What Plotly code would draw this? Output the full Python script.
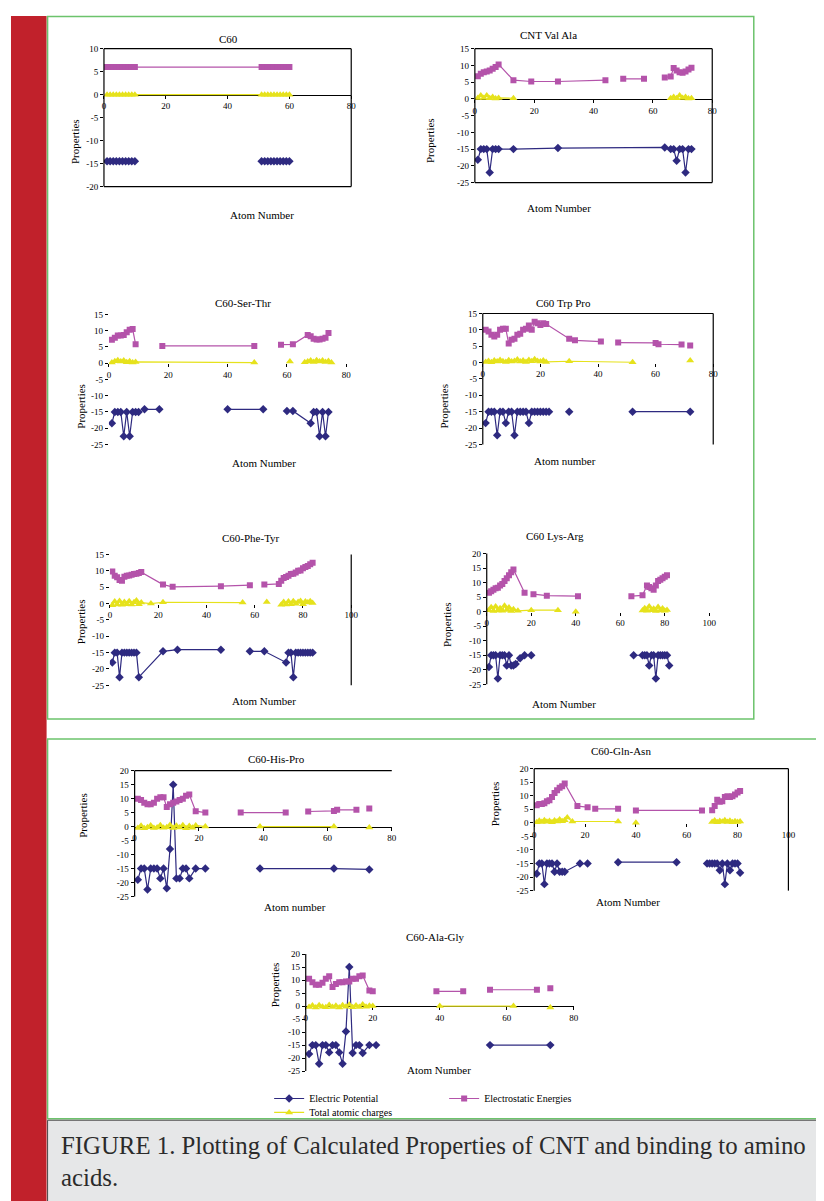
import plotly.graph_objects as go

W, H = 824, 1201
PAGE_OFFSET = 8  # browser default body margin
SERIF = "Liberation Serif"
POT_COLOR = "#2e2a80"
EN_COLOR = "#b453aa"
CH_COLOR = "#e6e21c"

# ---------------- data ----------------
X_TICKS_80 = [0, 20, 40, 60, 80]
X_TICKS_100 = [0, 20, 40, 60, 80, 100]
Y_TICKS_10 = [10, 5, 0, -5, -10, -15, -20]
Y_TICKS_15 = [15, 10, 5, 0, -5, -10, -15, -20, -25]
Y_TICKS_20 = [20, 15, 10, 5, 0, -5, -10, -15, -20, -25]

# C60
c60_atoms = [1, 2, 3, 4, 5, 6, 7, 8, 9, 10, 51, 52, 53, 54, 55, 56, 57, 58, 59, 60]
c60_energy = [6.0, 6.0, 6.0, 6.0, 6.0, 6.0, 6.0, 6.0, 6.0, 6.0, 6.0, 6.0, 6.0, 6.0, 6.0, 6.0, 6.0, 6.0, 6.0, 6.0]
c60_charge = [0.0, 0.0, 0.0, 0.0, 0.0, 0.0, 0.0, 0.0, 0.0, 0.0, 0.0, 0.0, 0.0, 0.0, 0.0, 0.0, 0.0, 0.0, 0.0, 0.0]
c60_pot_atoms = [1, 2, 3, 4, 5, 6, 7, 8, 9, 10, 30, 51, 52, 53, 54, 55, 56, 57, 58, 59, 60]
c60_potential = [-14.5, -14.5, -14.5, -14.5, -14.5, -14.5, -14.5, -14.5, -14.5, -14.5, None,
                 -14.5, -14.5, -14.5, -14.5, -14.5, -14.5, -14.5, -14.5, -14.5, -14.5]

# CNT Val Ala
valala_en_atoms = [1, 2, 3, 4, 5, 6, 7, 8, 13, 19, 28, 44, 47, 50, 57, 60, 64, 66, 67, 68, 69, 70, 71, 72, 73]
valala_energy = [6.8, 7.5, 8.0, 8.2, 8.5, 9.0, 9.5, 10.3, 5.6, 5.2, 5.2, 5.6, None, 6.0, 6.0, None,
                 6.4, 6.7, 9.2, 8.5, 8.0, 7.8, 8.2, 8.8, 9.3]
valala_ch_atoms = [1, 2, 3, 4, 5, 6, 7, 8, 13, 40, 66, 67, 68, 69, 70, 71, 72, 73]
valala_charge = [0.3, 1.0, 0.3, 1.0, 0.2, 0.6, 0.1, 0.3, 0.2, None, 0.2, 0.6, 0.2, 1.0, 0.3, 0.6, 0.1, 0.2]
valala_pot_atoms = [1, 2, 3, 4, 5, 6, 7, 8, 13, 28, 64, 66, 67, 68, 69, 70, 71, 72, 73]
valala_potential = [-18.2, -15, -15, -15, -22, -15, -15, -15, -15, -14.7, -14.5, -15, -15, -18.5,
                    -15, -15, -22, -15, -15]

# C60-Ser-Thr
serthr_en_atoms = [1, 2, 3, 4, 5, 6, 7, 8, 9, 13, 18, 49, 53, 58, 62, 67, 68, 69, 70, 71, 72, 73, 74]
serthr_energy = [7.2, 7.8, 8.5, 8.5, 8.7, 9.5, 10.3, 10.5, 5.8, None, 5.3, 5.3, None, 5.7, 5.8,
                 8.7, 8.3, 7.5, 7.3, 7.3, 7.5, 7.8, 9.3]
serthr_ch_atoms = [1, 2, 3, 4, 5, 6, 7, 8, 9, 49, 55, 61, 64, 66, 67, 68, 69, 70, 71, 72, 73, 74, 75]
serthr_charge = [0.2, 0.6, 0.9, 0.5, 0.8, 0.3, 0.6, 0.2, 0.4, 0.2, None, 0.5, None,
                 0.3, 0.5, 0.8, 0.4, 0.9, 0.5, 0.8, 0.4, 0.7, 0.2]
serthr_pot_atoms = [1, 2, 3, 4, 5, 6, 7, 8, 9, 10, 11, 12, 17, 30, 40, 52, 56, 60, 62,
                    68, 69, 70, 71, 72, 73, 74]
serthr_potential = [-18.5, -15, -15, -15, -22.5, -15, -22.5, -15, -15, -15, None, -14.2, -14.2,
                    None, -14.2, -14.2, None, -14.7, -14.7, -18.5, -15, -15, -22.5, -15, -22.5, -15]

# C60 Trp Pro
trppro_en_atoms = [1, 2, 3, 4, 5, 6, 7, 8, 9, 10, 11, 12, 13, 14, 15, 16, 17, 18, 19, 20, 21, 22,
                   30, 32, 41, 44, 47, 60, 61, 69, 70, 72]
trppro_energy = [10.0, 9.5, 8.5, 8.0, 8.5, 10.0, 10.3, 10.3, 5.8, 7.0, 7.3, 8.5, 8.8, 10.0, 10.3,
                 11.3, 10.0, 12.5, 12.0, 11.5, 12.0, 11.8,
                 7.3, 6.8, 6.4, None, 6.1, 6.0, 5.6, 5.5, None, 5.2]
trppro_ch_atoms = [1, 2, 3, 4, 5, 6, 7, 8, 9, 10, 11, 12, 13, 14, 15, 16, 17, 18, 19, 20, 21, 22,
                   30, 52, 60, 72]
trppro_charge = [0.2, 0.5, 0.1, 0.6, 0.3, 0.8, 0.4, 0.2, 0.7, 0.3, 0.5, 0.9, 0.3, 0.6, 0.2, 0.8,
                 0.4, 1.0, 0.5, 0.3, 0.6, 0.2, 0.4, 0.1, None, 0.6]
trppro_pot_atoms = [1, 2, 3, 4, 5, 6, 7, 8, 9, 10, 11, 12, 13, 14, 15, 16, 17, 18, 19, 20, 21, 22, 23,
                    26, 30, 40, 52, 72]
trppro_potential = [-18.5, -15, -15, -15, -22.2, -15, -15, -18.5, -15, -15, -22.2, -15, -15, -15,
                    -15, -18.5, -15, -15, -15, -15, -15, -15, -15, None, -15, None, -15, -15]

# C60-Phe-Tyr
phetyr_en_atoms = [1, 2, 3, 4, 5, 6, 7, 8, 9, 10, 11, 12, 13, 22, 26, 46, 58, 61, 64, 70,
                   71, 72, 73, 74, 75, 76, 77, 78, 79, 80, 81, 82, 83, 84]
phetyr_energy = [9.8, 8.5, 8.0, 7.2, 7.0, 8.2, 8.5, 8.6, 8.8, 9.0, 9.1, 9.3, 9.6,
                 5.8, 5.1, 5.3, 5.6, None, 5.8, 6.0,
                 7.0, 7.8, 8.1, 8.5, 9.0, 9.1, 9.5, 10.0, 10.1, 10.8, 11.2, 11.5, 12.0, 12.5]
phetyr_ch_atoms = [1, 2, 3, 4, 5, 6, 7, 8, 9, 10, 11, 12, 13, 17, 22, 55, 60, 65, 68,
                   71, 72, 73, 74, 75, 76, 77, 78, 79, 80, 81, 82, 83, 84]
phetyr_charge = [-0.5, 0.6, -0.3, 0.8, -0.4, 0.5, -0.2, 0.7, -0.3, 0.4, 0.9, -0.2, 0.3,
                 0.0, 0.4, 0.3, None, 0.5, None,
                 -0.4, 0.5, -0.3, 0.6, -0.2, 0.7, -0.1, 0.5, 0.8, -0.2, 0.6, 0.3, 0.7, 0.2]
phetyr_pot_atoms = [1, 2, 3, 4, 5, 6, 7, 8, 9, 10, 11, 12, 22, 28, 46, 52, 58, 64, 73,
                    74, 75, 76, 77, 78, 79, 80, 81, 82, 83, 84]
phetyr_potential = [-18.0, -15, -15, -22.5, -15, -15, -15, -15, -15, -15, -15, -22.5,
                    -14.6, -14.1, -14.1, None, -14.6, -14.6, -18.0,
                    -15, -15, -22.5, -15, -15, -15, -15, -15, -15, -15, -15]

# C60 Lys-Arg
lysarg_en_atoms = [1, 2, 3, 4, 5, 6, 7, 8, 9, 10, 11, 12, 17, 19, 21, 27, 41, 55, 65, 70,
                   72, 73, 74, 75, 76, 77, 78, 79, 80, 81]
lysarg_energy = [6.5, 7.0, 7.5, 8.0, 8.2, 9.0, 9.5, 10.5, 11.5, 12.5, 13.5, 14.5,
                 6.5, None, 6.0, 5.5, 5.3, None, 5.3, 5.6,
                 9.0, 8.5, 8.0, 7.5, 9.0, 10.5, 11.0, 11.5, 12.0, 12.5]
lysarg_ch_atoms = [1, 2, 3, 4, 5, 6, 7, 8, 9, 10, 11, 12, 14, 20, 32, 36, 40, 60,
                   70, 71, 72, 73, 74, 75, 76, 77, 78, 79, 80, 81]
lysarg_charge = [0.5, 1.5, 0.2, 1.8, 0.4, 1.2, 0.3, 2.0, 0.6, 1.4, 0.2, 0.8,
                 0.3, 0.5, 0.5, None, 0.0, None,
                 0.4, 1.2, 0.3, 1.8, 0.5, 1.0, 0.2, 1.6, 0.4, 1.1, 0.3, 0.6]
lysarg_pot_atoms = [1, 2, 3, 4, 5, 6, 7, 8, 9, 10, 11, 12, 13, 15, 17, 20, 40, 66,
                    70, 71, 72, 73, 74, 75, 76, 77, 78, 79, 80, 81, 82]
lysarg_potential = [-19.0, -15, -15, -15, -23.0, -15, -15, -15, -18.5, -15, -18.5, -18.5, -18.0,
                    -16.0, -15, -15, None, -15,
                    -15, -15, -15, -18.5, -15, -15, -23.0, -15, -15, -15, -15, -15, -18.5]

# C60-His-Pro
hispro_en_atoms = [1, 2, 3, 4, 5, 6, 7, 8, 9, 10, 11, 12, 13, 14, 15, 16, 17,
                   19, 22, 27, 33, 47, 50, 54, 62, 63, 69, 71, 73]
hispro_energy = [10.0, 9.5, 8.5, 8.0, 8.0, 8.5, 10.0, 10.5, 10.5, 7.0, 8.0, 8.5, 9.0, 9.5, 10.0,
                 11.0, 11.5, 5.5, 5.0, None, 5.0, 5.0, None, 5.4, 5.6, 6.0, 6.0, None, 6.5]
hispro_ch_atoms = [1, 2, 3, 4, 5, 6, 7, 8, 9, 10, 11, 12, 13, 14, 15, 16, 17, 18, 19,
                   22, 30, 39, 62, 68, 73]
hispro_charge = [-0.5, 0.3, -0.6, -0.2, 0.4, -0.5, -0.3, 0.5, -0.4, -0.2, 0.6, -0.5, 0.3, -0.3,
                 0.5, -0.6, 0.2, -0.4, 0.4, 0.0, None, 0.0, 0.0, None, -0.3]
hispro_pot_atoms = [1, 2, 3, 4, 5, 6, 7, 8, 9, 10, 11, 12, 13, 14, 15, 16, 17,
                    19, 22, 30, 39, 62, 73]
hispro_potential = [-19.0, -15, -15, -22.5, -15, -15, -15, -18.5, -15, -22.0, -8.0, 15.0, -18.5,
                    -18.5, -15, -15, -18.5, -15, -15, None, -15, -15, -15.3]

# C60-Gln-Asn
glnasn_en_atoms = [1, 2, 3, 4, 5, 6, 7, 8, 9, 10, 11, 12, 17, 21, 22, 24, 33, 37, 40, 66, 68,
                   70, 71, 72, 73, 74, 75, 76, 77, 78, 79, 80, 81]
glnasn_energy = [6.5, 7.0, 7.0, 7.2, 8.0, 8.3, 9.5, 11.0, 12.0, 13.0, 13.5, 14.5,
                 6.2, 5.8, None, 5.2, 5.2, None, 4.6, 4.6, None,
                 4.7, 6.2, 8.5, 7.8, 8.0, 9.5, 9.8, 9.5, 9.8, 10.5, 11.2, 11.8]
glnasn_ch_atoms = [1, 2, 3, 4, 5, 6, 7, 8, 9, 10, 11, 12, 13, 15, 33, 36, 40, 45,
                   70, 71, 72, 73, 74, 75, 76, 77, 78, 79, 80, 81]
glnasn_charge = [0.2, 0.8, 0.3, 1.0, 0.4, 0.7, 0.2, 0.9, 0.5, 1.2, 0.6, 1.0, 2.0,
                 0.5, 0.5, None, 0.0, None,
                 0.3, 0.9, 0.2, 0.7, 0.4, 1.0, 0.3, 0.8, 0.2, 0.6, 0.3, 0.5]
glnasn_pot_atoms = [1, 2, 3, 4, 5, 6, 7, 8, 9, 10, 11, 12, 18, 21, 27, 33, 56, 62,
                    68, 69, 70, 71, 72, 73, 74, 75, 76, 77, 78, 79, 80, 81]
glnasn_potential = [-18.8, -15, -15, -22.6, -15, -15, -15, -18.0, -15, -18.0, -18.0, -18.0,
                    -15, -15, None, -14.5, -14.5, None,
                    -15, -15, -15, -15, -15, -17.5, -15, -22.6, -15, -17.5, -15, -15, -15, -18.4]

# C60-Ala-Gly
alagly_en_atoms = [1, 2, 3, 4, 5, 6, 7, 8, 9, 10, 11, 12, 13, 14, 15, 16, 17,
                   19, 20, 30, 39, 47, 50, 55, 69, 71, 73]
alagly_energy = [10.5, 9.2, 8.2, 8.2, 9.0, 10.5, 11.5, 7.3, 8.5, 9.2, 9.2, 9.5, 9.5, 10.5, 10.5,
                 11.5, 11.8, 6.0, 5.7, None, 5.7, 5.7, None, 6.3, 6.3, None, 6.9]
alagly_ch_atoms = [1, 2, 3, 4, 5, 6, 7, 8, 9, 10, 11, 12, 13, 14, 15, 16, 17, 18, 19, 20,
                   30, 40, 62, 68, 73]
alagly_charge = [-0.3, 0.2, -0.5, 0.3, -0.2, -0.4, 0.4, -0.3, 0.1, -0.5, 0.3, -0.2, 0.5, -0.4,
                 0.2, -0.3, 0.6, -0.2, 0.1, 0.0, None, 0.0, 0.0, None, -0.5]
alagly_pot_atoms = [1, 2, 3, 4, 5, 6, 7, 8, 9, 10, 11, 12, 13, 14, 15, 16, 17,
                    19, 21, 40, 55, 73]
alagly_potential = [-18.4, -15, -15, -22.2, -15, -15, -17.8, -15, -15, -17.8, -22.2, -9.8, 15.0,
                    -18.0, -15, -15, -18.0, -15, -15, None, -15, -15]

SERIES_NAMES = ["Electric Potential", "Electrostatic Energies", "Total atomic charges"]
CAPTION = "FIGURE 1. Plotting of Calculated Properties of CNT and binding to amino<br>acids."

# ---------------- layout of panels (pixel boxes) ----------------
panels = [
    dict(title="C60", xtitle="Atom Number", box=(103, 353, 44, 183), xr=(0, 80), yr=(-20, 10),
         xt=X_TICKS_80, yt=Y_TICKS_10, sides="lrtb", xline=True,
         t_xy=(217, 26), yl_xy=(65, 113), xl_xy=(228, 204),
         pot=(c60_pot_atoms, c60_potential), en=(c60_atoms, c60_energy), ch=(c60_atoms, c60_charge)),
    dict(title="CNT Val Ala", xtitle="Atom Number", box=(478, 718, 44, 179), xr=(0, 80), yr=(-25, 15),
         xt=X_TICKS_80, yt=Y_TICKS_15, sides="lrtb", xline=True,
         t_xy=(583, 22), yl_xy=(432, 112), xl_xy=(597, 197),
         pot=(valala_pot_atoms, valala_potential), en=(valala_en_atoms, valala_energy),
         ch=(valala_ch_atoms, valala_charge)),
    dict(title="C60-Ser-Thr", xtitle="Atom Number", box=(108, 348, 312, 443), xr=(0, 80), yr=(-25, 15),
         xt=X_TICKS_80, yt=Y_TICKS_15, sides="", xline=False,
         t_xy=(213, 292), yl_xy=(72, 380), xl_xy=(230, 462),
         pot=(serthr_pot_atoms, serthr_potential), en=(serthr_en_atoms, serthr_energy),
         ch=(serthr_ch_atoms, serthr_charge)),
    dict(title="C60 Trp Pro", xtitle="Atom number", box=(486, 719, 311, 443), xr=(0, 80), yr=(-25, 15),
         xt=X_TICKS_80, yt=Y_TICKS_15, sides="lrt", xline=False,
         t_xy=(597, 292), yl_xy=(447, 380), xl_xy=(602, 460),
         pot=(trppro_pot_atoms, trppro_potential), en=(trppro_en_atoms, trppro_energy),
         ch=(trppro_ch_atoms, trppro_charge)),
    dict(title="C60-Phe-Tyr", xtitle="Atom Number", box=(109, 353, 554, 686), xr=(0, 100), yr=(-25, 15),
         xt=X_TICKS_100, yt=Y_TICKS_15, sides="r", xline=False,
         t_xy=(220, 537), yl_xy=(72, 622), xl_xy=(230, 702),
         pot=(phetyr_pot_atoms, phetyr_potential), en=(phetyr_en_atoms, phetyr_energy),
         ch=(phetyr_ch_atoms, phetyr_charge)),
    dict(title="C60 Lys-Arg", xtitle="Atom Number", box=(490, 715, 553, 685), xr=(0, 100), yr=(-25, 20),
         xt=X_TICKS_100, yt=Y_TICKS_20, sides="l", xline=False,
         t_xy=(590, 535), yl_xy=(450, 625), xl_xy=(602, 705),
         pot=(lysarg_pot_atoms, lysarg_potential), en=(lysarg_en_atoms, lysarg_energy),
         ch=(lysarg_ch_atoms, lysarg_charge)),
    dict(title="C60-His-Pro", xtitle="Atom number", box=(134, 394, 772, 899), xr=(0, 80), yr=(-25, 20),
         xt=X_TICKS_80, yt=Y_TICKS_20, sides="lt", xline=True,
         t_xy=(247, 760), yl_xy=(73, 842), xl_xy=(263, 918),
         pot=(hispro_pot_atoms, hispro_potential), en=(hispro_en_atoms, hispro_energy),
         ch=(hispro_ch_atoms, hispro_charge)),
    dict(title="C60-Gln-Asn", xtitle="Atom Number", box=(538, 795, 770, 893), xr=(0, 100), yr=(-25, 20),
         xt=X_TICKS_100, yt=Y_TICKS_20, sides="lrt", xline=False,
         t_xy=(658, 752), yl_xy=(498, 830), xl_xy=(667, 913),
         pot=(glnasn_pot_atoms, glnasn_potential), en=(glnasn_en_atoms, glnasn_energy),
         ch=(glnasn_ch_atoms, glnasn_charge)),
    dict(title="C60-Ala-Gly", xtitle="Atom Number", box=(307, 578, 957, 1075), xr=(0, 80), yr=(-25, 20),
         xt=X_TICKS_80, yt=Y_TICKS_20, sides="l", xline=True,
         t_xy=(438, 948), yl_xy=(268, 1013), xl_xy=(442, 1082),
         pot=(alagly_pot_atoms, alagly_potential), en=(alagly_en_atoms, alagly_energy),
         ch=(alagly_ch_atoms, alagly_charge)),
]


def px(x):
    return (x - PAGE_OFFSET) / W


def py(y):
    return 1 - (y - PAGE_OFFSET) / H


fig = go.Figure()
layout = {}
shapes = []
annotations = []

# page decorations
shapes.append(dict(type="rect", xref="paper", yref="paper", x0=px(9), x1=px(45), y0=py(1215), y1=py(11),
                   fillcolor="#c1212b", line=dict(width=0), layer="below"))
shapes.append(dict(type="rect", xref="paper", yref="paper", x0=px(46), x1=px(760), y0=py(720), y1=py(11.5),
                   fillcolor="rgba(0,0,0,0)", line=dict(color="#6cc36c", width=1.5), layer="below"))
shapes.append(dict(type="rect", xref="paper", yref="paper", x0=px(46), x1=px(840), y0=py(1123), y1=py(740),
                   fillcolor="rgba(0,0,0,0)", line=dict(color="#6cc36c", width=1.5), layer="below"))
shapes.append(dict(type="rect", xref="paper", yref="paper", x0=px(46), x1=px(840), y0=py(1215), y1=py(1124.5),
                   fillcolor="#e6e7e8", line=dict(color="#444444", width=1), layer="below"))
annotations.append(dict(text=CAPTION, xref="paper", yref="paper", x=px(58), y=py(1134),
                        xanchor="left", yanchor="top", align="left", showarrow=False,
                        font=dict(family=SERIF, size=24.8, color="#2b2b2b")))

tick_font = dict(family=SERIF, size=9, color="black")
lab_font = dict(family=SERIF, size=11, color="black")

for i, p in enumerate(panels, start=1):
    xa = "x" if i == 1 else f"x{i}"
    ya = "y" if i == 1 else f"y{i}"
    L, R, T, B = p["box"]
    xdom = [px(L), px(R)]
    ydom = [py(B), py(T)]
    y0, y1 = p["yr"]
    zero_pos = ydom[0] + (0 - y0) / (y1 - y0) * (ydom[1] - ydom[0])
    layout["xaxis" if i == 1 else f"xaxis{i}"] = dict(
        domain=xdom, range=list(p["xr"]), anchor="free", position=zero_pos,
        tickvals=p["xt"], ticktext=[str(v) for v in p["xt"]],
        showline=p["xline"], linecolor="black", linewidth=1,
        ticks="outside", ticklen=3, tickcolor="black", tickwidth=1,
        showgrid=False, zeroline=False, layer="below traces", tickfont=tick_font)
    layout["yaxis" if i == 1 else f"yaxis{i}"] = dict(
        domain=ydom, range=[y0, y1], anchor=xa,
        tickvals=p["yt"], ticktext=[str(v) for v in p["yt"]],
        showline=False, ticks="outside", ticklen=3, tickcolor="black", tickwidth=1,
        showgrid=False, zeroline=False, tickfont=tick_font)
    for side in p["sides"]:
        seg = {"l": (0, 0, 0, 1), "r": (1, 1, 0, 1), "t": (0, 1, 1, 1), "b": (0, 1, 0, 0)}[side]
        shapes.append(dict(type="line", xref=f"{xa} domain", yref=f"{ya} domain",
                           x0=seg[0], x1=seg[1], y0=seg[2], y1=seg[3],
                           line=dict(color="black", width=1.2)))
    annotations.append(dict(text=p["title"], xref="paper", yref="paper", x=px(p["t_xy"][0]),
                            y=py(p["t_xy"][1]), showarrow=False, font=lab_font))
    annotations.append(dict(text="Properties", xref="paper", yref="paper", x=px(p["yl_xy"][0]),
                            y=py(p["yl_xy"][1]), showarrow=False, textangle=-90, font=lab_font))
    annotations.append(dict(text=p["xtitle"], xref="paper", yref="paper", x=px(p["xl_xy"][0]),
                            y=py(p["xl_xy"][1]), showarrow=False, font=lab_font))

    last = (i == len(panels))
    fig.add_trace(go.Scatter(
        x=p["pot"][0], y=p["pot"][1], xaxis=xa, yaxis=ya, mode="lines+markers",
        name=SERIES_NAMES[0], showlegend=last, legend="legend", connectgaps=False,
        line=dict(color=POT_COLOR, width=1.2),
        marker=dict(symbol="diamond", size=6.5, color=POT_COLOR)))
    fig.add_trace(go.Scatter(
        x=p["en"][0], y=p["en"][1], xaxis=xa, yaxis=ya, mode="lines+markers",
        name=SERIES_NAMES[1], showlegend=last, legend="legend", connectgaps=False,
        line=dict(color=EN_COLOR, width=1.2),
        marker=dict(symbol="square", size=6, color=EN_COLOR)))
    fig.add_trace(go.Scatter(
        x=p["ch"][0], y=p["ch"][1], xaxis=xa, yaxis=ya, mode="lines+markers",
        name=SERIES_NAMES[2], showlegend=last, legend="legend2", connectgaps=False,
        line=dict(color=CH_COLOR, width=1.2),
        marker=dict(symbol="triangle-up", size=7, color=CH_COLOR)))

leg_font = dict(family=SERIF, size=10, color="black")
fig.update_layout(
    width=W, height=H, autosize=False,
    margin=dict(l=0, r=0, t=0, b=0, pad=0),
    paper_bgcolor="white", plot_bgcolor="rgba(0,0,0,0)",
    shapes=shapes, annotations=annotations,
    legend=dict(orientation="h", x=px(270), y=py(1088), xanchor="left", yanchor="top",
                entrywidth=130, entrywidthmode="pixels", font=leg_font,
                bgcolor="rgba(0,0,0,0)", itemwidth=30, tracegroupgap=0),
    legend2=dict(orientation="h", x=px(270), y=py(1102), xanchor="left", yanchor="top",
                 font=leg_font, bgcolor="rgba(0,0,0,0)", itemwidth=30),
    **layout,
)

fig.write_html("out.html")
